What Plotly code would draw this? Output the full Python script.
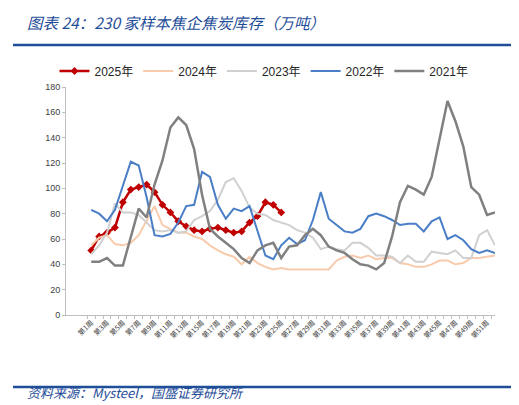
import plotly.graph_objects as go

# 230家样本焦企焦炭库存（万吨），按周
weeks = [f"第{i}周" for i in range(1, 53)]
tick_text = [w if i % 2 == 0 else "" for i, w in enumerate(weeks)]

y2025 = [51, 62, 65, 69, 89, 99, 101, 103, 97, 87, 81, 74, 70, 67,
         66, 68, 69, 67, 65, 66, 73, 78, 89, 87, 81]
y2024 = [55, 61, 63, 56, 55, 57, 63, 74, 86, 71, 68, 65, 65, 62,
         60, 55, 51, 48, 46, 40, 46, 41, 38, 36, 37, 36,
         36, 36, 36, 36, 36, 43, 46, 47, 45, 47, 44, 45, 45, 41,
         40, 38, 38, 40, 43, 43, 40, 41, 45, 45, 46, 47]
y2023 = [48, 55, 65, 88, 81, 81, 79, 73, 67, 66, 67, 65, 66, 75,
         78, 82, 91, 105, 108, 98, 85, 80, 79, 75, 73, 71,
         67, 65, 61, 52, 54, 52, 51, 57, 57, 53, 47, 47, 46, 41,
         47, 42, 42, 50, 49, 48, 51, 45, 45, 63, 67, 55]
y2022 = [83, 80, 74, 83, 102, 121, 118, 93, 63, 62, 64, 73, 86, 87,
         113, 109, 87, 76, 84, 82, 86, 67, 47, 44, 55, 61,
         56, 59, 75, 97, 76, 71, 66, 65, 68, 78, 80, 78, 75, 71,
         72, 72, 66, 74, 77, 60, 63, 59, 52, 49, 51, 49]
y2021 = [42, 42, 45, 39, 39, 61, 84, 77, 103, 122, 148, 156, 150, 131,
         95, 68, 62, 57, 52, 45, 41, 51, 55, 57, 45, 54,
         55, 63, 68, 63, 54, 51, 49, 44, 40, 39, 36, 41, 62, 89,
         102, 99, 95, 109, 140, 169, 153, 133, 101, 95, 79, 81]

W, H = 519, 405
L, R, T, B = 58, 32, 79, 98
pw, ph = W - L - R, H - T - B


def px_x(x):
    return (x - L) / pw


def px_y(y):
    return (H - B - y) / ph


BLUE_TXT = "#1F4E99"

fig = go.Figure()
fig.add_trace(go.Scatter(x=weeks[:len(y2025)], y=y2025, name="2025年",
                         mode="lines+markers",
                         line=dict(color="#C00000", width=2.5),
                         marker=dict(symbol="diamond", size=6, color="#C00000")))
fig.add_trace(go.Scatter(x=weeks, y=y2024, name="2024年", mode="lines",
                         line=dict(color="#F8CBAD", width=2)))
fig.add_trace(go.Scatter(x=weeks, y=y2023, name="2023年", mode="lines",
                         line=dict(color="#D0D0D0", width=2)))
fig.add_trace(go.Scatter(x=weeks, y=y2022, name="2022年", mode="lines",
                         line=dict(color="#4A7EC6", width=2)))
fig.add_trace(go.Scatter(x=weeks, y=y2021, name="2021年", mode="lines",
                         line=dict(color="#808080", width=2.5)))

fig.update_layout(
    width=W, height=H,
    margin=dict(l=L, r=R, t=T, b=B),
    paper_bgcolor="white", plot_bgcolor="white",
    font=dict(family="Liberation Sans, Noto Sans CJK SC", color="#262626"),
    showlegend=True,
    legend=dict(orientation="h", x=px_x(256), xanchor="center",
                y=px_y(63), yanchor="middle",
                font=dict(size=12, color="#262626"),
                traceorder="normal", itemwidth=30,
                bgcolor="rgba(0,0,0,0)"),
    xaxis=dict(type="category", categoryorder="array", categoryarray=weeks,
               tickmode="array", tickvals=weeks, ticktext=tick_text,
               tickangle=-45, tickson="boundaries",
               ticks="outside", ticklen=3, tickcolor="#BFBFBF",
               showline=True, linecolor="#BFBFBF", linewidth=1,
               showgrid=False, zeroline=False,
               tickfont=dict(size=7, color="#404040",
                             family="Noto Sans CJK SC")),
    yaxis=dict(range=[0, 180], dtick=20, ticks="outside", ticklen=3,
               tickcolor="#BFBFBF", showline=True, linecolor="#BFBFBF",
               linewidth=1, showgrid=False, zeroline=False,
               tickfont=dict(size=9, color="#404040")),
)

# 标题与来源
fig.add_annotation(text="图表 24：230 家样本焦企焦炭库存（万吨）",
                   xref="paper", yref="paper", x=px_x(17), y=px_y(14),
                   xanchor="left", yanchor="middle", showarrow=False,
                   font=dict(size=15.5, color=BLUE_TXT,
                             family="Noto Sans CJK SC", style="italic"))
fig.add_annotation(text="资料来源：Mysteel，国盛证券研究所",
                   xref="paper", yref="paper", x=px_x(17), y=px_y(384),
                   xanchor="left", yanchor="middle", showarrow=False,
                   font=dict(size=13, color=BLUE_TXT,
                             family="Noto Sans CJK SC", style="italic"))

for yy in (37, 379):
    fig.add_shape(type="line", xref="paper", yref="paper",
                  x0=px_x(5), x1=px_x(514), y0=px_y(yy), y1=px_y(yy),
                  line=dict(color="#1F4E99", width=2.5))

fig.write_html("out.html")
